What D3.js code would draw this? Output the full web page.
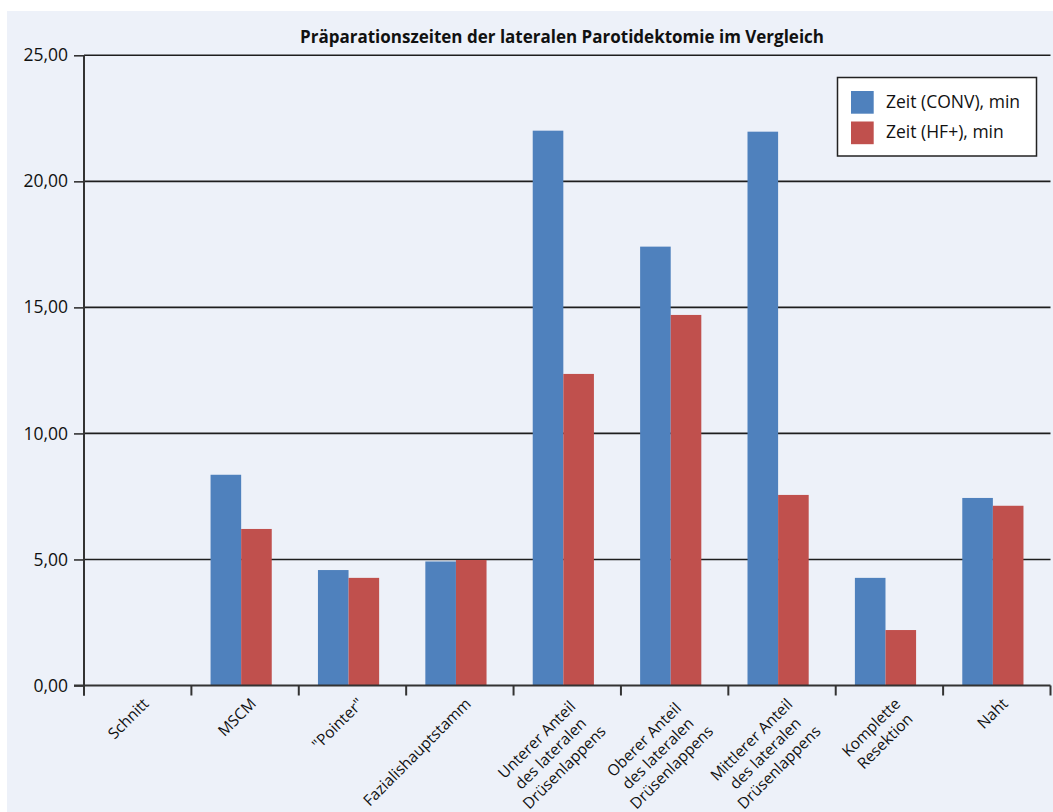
<!DOCTYPE html>
<html>
<head>
<meta charset="utf-8">
<script src="https://cdn.jsdelivr.net/npm/d3@7"></script>
<style>
  body { margin: 0; background: #ffffff; }
  text { font-family: "Open Sans", sans-serif; fill: #111; }
</style>
</head>
<body>
<div id="chart"></div>
<script>
var width = 1053;
var height = 812;

// Kategorien (Zeilenumbruch = "\n")
var categories = [
  "Schnitt",
  "MSCM",
  "\"Pointer\"",
  "Fazialishauptstamm",
  "Unterer Anteil\ndes lateralen\nDrüsenlappens",
  "Oberer Anteil\ndes lateralen\nDrüsenlappens",
  "Mittlerer Anteil\ndes lateralen\nDrüsenlappens",
  "Komplette\nResektion",
  "Naht"
];
var seriesNames = ["Zeit (CONV), min", "Zeit (HF+), min"];
var convTimes = [0, 8.36, 4.58, 4.92, 22.01, 17.41, 21.97, 4.27, 7.44];
var hfTimes   = [0, 6.21, 4.27, 4.98, 12.36, 14.70, 7.56, 2.20, 7.13];
var yTicks = [0, 5, 10, 15, 20, 25];
var colors = ["#4f81bd", "#c0504d"];
var title = "Präparationszeiten der lateralen Parotidektomie im Vergleich";

var plot = { left: 84, right: 1050.5, top: 55.3, bottom: 685.5 };

var deLocale = d3.formatLocale({ decimal: ",", thousands: ".", grouping: [3], currency: ["", " €"] });
var fmt = deLocale.format(".2f");

function createSVG() {
  var svg = d3.select("#chart")
    .append("svg")
    .attr("width", width)
    .attr("height", height);
  // hellblauer Hintergrund
  svg.append("rect")
    .attr("x", 7).attr("y", 11)
    .attr("width", width - 7).attr("height", height - 11)
    .style("fill", "#edf1f9");
  return svg;
}

function main() {
  var svg = createSVG();

  var x = d3.scaleBand()
    .domain(categories)
    .range([plot.left, plot.right])
    .padding(0);

  var x1 = d3.scaleBand()
    .domain(seriesNames)
    .range([0, x.bandwidth()])
    .paddingInner(0)
    .paddingOuter(0.755)
    .align(0.415);

  var y = d3.scaleLinear()
    .domain([0, 25])
    .range([plot.bottom, plot.top]);

  // Titel
  svg.append("text")
    .attr("x", 562)
    .attr("y", 43)
    .attr("text-anchor", "middle")
    .attr("textLength", 524)
    .attr("lengthAdjust", "spacingAndGlyphs")
    .style("font-size", "17.5px")
    .style("font-weight", "bold")
    .text(title);

  // Gitterlinien
  svg.append("g").selectAll("line")
    .data(yTicks.filter(function(d) { return d > 0; }))
    .enter()
    .append("line")
    .attr("x1", plot.left)
    .attr("x2", plot.right)
    .attr("y1", function(d) { return y(d); })
    .attr("y2", function(d) { return y(d); })
    .style("stroke", "#1e1e1e")
    .style("stroke-width", 1.6);

  // Y-Achse
  var yAxis = svg.append("g")
    .attr("transform", "translate(" + plot.left + ",0)")
    .call(d3.axisLeft(y).tickValues(yTicks).tickSize(10).tickPadding(6).tickFormat(fmt));
  yAxis.select(".domain").remove();
  yAxis.selectAll(".tick line").style("stroke", "#333").style("stroke-width", 1.6);
  yAxis.selectAll(".tick text")
    .style("font-family", "\"Open Sans\", sans-serif")
    .style("font-size", "17.5px")
    .style("fill", "#111");

  // Balken
  var rows = categories.map(function(c, i) {
    return { cat: c, values: [convTimes[i], hfTimes[i]] };
  });
  var groups = svg.append("g").selectAll("g")
    .data(rows)
    .enter()
    .append("g")
    .attr("transform", function(d) { return "translate(" + x(d.cat) + ",0)"; });
  groups.selectAll("rect")
    .data(function(d) {
      return d.values.map(function(v, j) { return { name: seriesNames[j], value: v, idx: j }; });
    })
    .enter()
    .append("rect")
    .attr("x", function(d) { return x1(d.name); })
    .attr("width", x1.bandwidth())
    .attr("y", function(d) { return y(d.value); })
    .attr("height", function(d) { return y(0) - y(d.value); })
    .style("fill", function(d) { return colors[d.idx]; });

  // Achsenlinien
  svg.append("line")
    .attr("x1", plot.left).attr("x2", plot.left)
    .attr("y1", plot.top).attr("y2", plot.bottom + 10)
    .style("stroke", "#333").style("stroke-width", 2);
  svg.append("line")
    .attr("x1", plot.left - 10).attr("x2", plot.right)
    .attr("y1", plot.bottom).attr("y2", plot.bottom)
    .style("stroke", "#333").style("stroke-width", 2);

  // Kategoriegrenzen (Teilstriche)
  svg.append("g").selectAll("line")
    .data(d3.range(categories.length + 1))
    .enter()
    .append("line")
    .attr("x1", function(i) { return plot.left + i * x.step(); })
    .attr("x2", function(i) { return plot.left + i * x.step(); })
    .attr("y1", plot.bottom)
    .attr("y2", plot.bottom + 10)
    .style("stroke", "#333")
    .style("stroke-width", 2);

  // Kategorie-Beschriftungen, -45° gedreht, zentrierte Zeilen
  var labels = svg.append("g").selectAll("g")
    .data(categories)
    .enter()
    .append("g")
    .attr("transform", function(d) {
      return "translate(" + (x(d) + x.bandwidth() / 2) + ",692.7) rotate(-45)";
    });
  labels.each(function(d) {
    var lines = d.split("\n");
    var t = d3.select(this).append("text")
      .attr("text-anchor", "middle")
      .style("font-size", "15.5px");
    lines.forEach(function(l, i) {
      t.append("tspan").attr("y", 17 + i * 19.5).text(l);
    });
    var w = d3.max(t.selectAll("tspan").nodes(), function(n) { return n.getComputedTextLength(); });
    t.selectAll("tspan").attr("x", -w / 2);
  });

  // Legende
  var legend = svg.append("g");
  legend.append("rect")
    .attr("x", 837.5).attr("y", 77.5)
    .attr("width", 199).attr("height", 78.5)
    .style("fill", "#ffffff")
    .style("stroke", "#222")
    .style("stroke-width", 1.5);
  var items = legend.selectAll("g.item")
    .data(seriesNames)
    .enter()
    .append("g")
    .attr("class", "item")
    .attr("transform", function(d, i) { return "translate(851," + (91 + i * 30.5) + ")"; });
  items.append("rect")
    .attr("width", 22.7).attr("height", 22.7)
    .style("fill", function(d, i) { return colors[i]; });
  items.append("text")
    .attr("x", 35)
    .attr("y", 16.8)
    .style("font-size", "17.5px")
    .text(function(d) { return d; });
}

window.onload = function() {
  main();
};
</script>
</body>
</html>
